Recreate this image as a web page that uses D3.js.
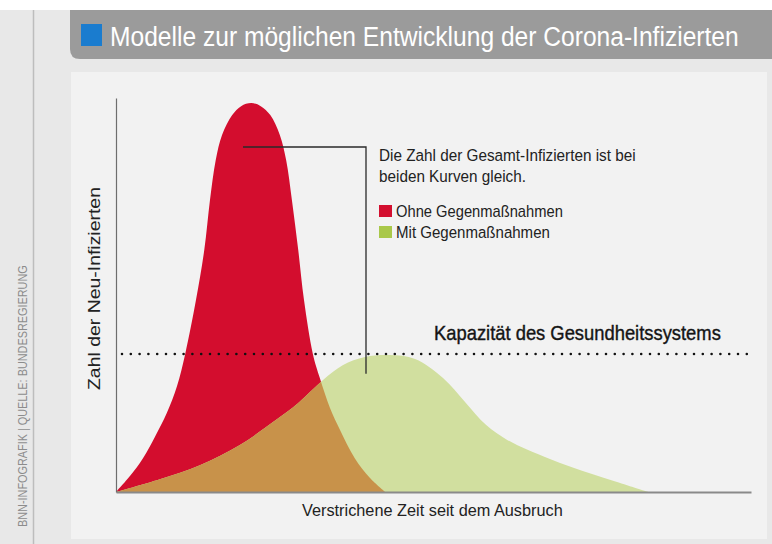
<!DOCTYPE html>
<html>
<head>
<meta charset="utf-8">
<script src="https://cdn.jsdelivr.net/npm/d3@7"></script>
<style>
  body { margin: 0; background: #e8e8e8; }
  svg { display: block; }
  text { font-family: 'Liberation Sans', Arial, sans-serif; }
</style>
</head>
<body>
<div id="chart"></div>
<script>
// time since outbreak (0-100) and new infections (share of red peak, 0-100)
var timeRed  = [0, 2.2, 4.25, 6.1, 8.0, 9.6, 10.9, 12.6, 13.9, 14.8, 15.7, 16.7, 18.3, 19.7, 21.3, 22.8, 24.3, 25.8, 26.8, 27.7, 28.7, 29.6, 31.0, 32.1, 33.7, 35.3, 37.6, 40.0, 42.4]
var valueRed = [0, 4.1, 8.7, 14.1, 20.3, 27.2, 35.5, 49.4, 62.2, 75.1, 85.3, 91.8, 96.9, 99.2, 100, 99.2, 96.9, 91.8, 85.3, 75.1, 62.2, 49.4, 35.5, 29.3, 21.6, 15.9, 8.7, 3.6, 0]

var timeGreen  = [0, 6.9, 13.2, 19.5, 25.0, 28.7, 32.6, 35.7, 39.2, 43.1, 47.1, 51.5, 55.0, 58.3, 61.6, 64.9, 71.7, 78.4, 83.8]
var valueGreen = [0, 3.3, 6.9, 12.1, 18.3, 22.9, 28.8, 32.6, 34.7, 35.2, 34.2, 29.3, 23.1, 17.2, 13.4, 10.8, 6.4, 2.8, 0]

var capacity = 35.5

var seriesNames = ["Ohne Gegenmaßnahmen", "Mit Gegenmaßnahmen"]
var titleText = "Modelle zur möglichen Entwicklung der Corona-Infizierten"
var noteLines = ["Die Zahl der Gesamt-Infizierten ist bei", "beiden Kurven gleich."]
var capacityLabel = "Kapazität des Gesundheitssystems"
var xLabel = "Verstrichene Zeit seit dem Ausbruch"
var yLabel = "Zahl der Neu-Infizierten"
var sourceText = "BNN-INFOGRAFIK | QUELLE: BUNDESREGIERUNG"

var width = 772, height = 544

var red = "#d30d2e", green = "#d1df9f", brown = "#c8924a"
var legendColors = ["#d30f2f", "#a9c84a"]

var svg = d3.select("#chart")
    .append("svg")
    .attr("width", width)
    .attr("height", height)

// squeeze a text horizontally so it takes the given width (condensed look)
function fitText(sel, x, y, w, rot) {
    var len = sel.node().getComputedTextLength()
    var k = w / len
    sel.attr("transform", "translate(" + x + "," + y + ")" + (rot ? " rotate(" + rot + ")" : "") + " scale(" + k + ",1)")
    return sel
}

// background pieces
svg.append("rect").attr("x", 0).attr("y", 0).attr("width", width).attr("height", height).attr("fill", "#e8e8e8")
svg.append("rect").attr("x", 0).attr("y", 0).attr("width", width).attr("height", 10).attr("fill", "#ffffff")
svg.append("line").attr("x1", 33.5).attr("x2", 33.5).attr("y1", 10).attr("y2", height)
    .attr("stroke", "#bdbdbd").attr("stroke-width", 1.5)

// title bar with rounded bottom-left corner
svg.append("path")
    .attr("d", "M70,10 H772 V59 H80 Q70,59 70,49 Z")
    .attr("fill", "#9b9b9b")
svg.append("rect").attr("x", 81).attr("y", 24).attr("width", 21).attr("height", 22).attr("fill", "#1a7ccf")
fitText(svg.append("text")
    .style("font-size", "28px").attr("fill", "#ffffff")
    .text(titleText), 110, 46, 629)

// panel
svg.append("rect").attr("x", 71).attr("y", 72).attr("width", 696).attr("height", 467).attr("fill", "#f2f2f2")

// source text
fitText(svg.append("text")
    .style("font-size", "13px").attr("fill", "#8c8c8c")
    .text(sourceText), 27, 527, 262, -90)

// scales
var x = d3.scaleLinear().domain([0, 100]).range([116, 751])
var y = d3.scaleLinear().domain([0, 101.3]).range([492, 98])

var redData = timeRed.map(function (t, i) { return { t: t, v: valueRed[i] } })
var greenData = timeGreen.map(function (t, i) { return { t: t, v: valueGreen[i] } })

var area = d3.area()
    .x(function (d) { return x(d.t) })
    .y0(y(0))
    .y1(function (d) { return y(d.v) })
    .curve(d3.curveCatmullRom.alpha(0.5))

svg.append("clipPath").attr("id", "redClip")
    .append("path").attr("d", area(redData))

svg.append("path").attr("d", area(redData)).attr("fill", red)
svg.append("path").attr("d", area(greenData)).attr("fill", green)
svg.append("path").attr("d", area(greenData)).attr("fill", brown).attr("clip-path", "url(#redClip)")

// axes without ticks
var xAxis = svg.append("g")
    .attr("transform", "translate(0," + y(0) + ")")
    .call(d3.axisBottom(x).ticks(0).tickSizeOuter(0))
xAxis.select(".domain").attr("stroke", "#8a8a8a").attr("stroke-width", 2)

var yAxis = svg.append("g")
    .attr("transform", "translate(" + x(0) + ",0)")
    .call(d3.axisLeft(y).ticks(0).tickSizeOuter(0))
yAxis.select(".domain").attr("stroke", "#6e6e6e").attr("stroke-width", 1.2)

// capacity line
svg.append("line")
    .attr("x1", x(0) + 6).attr("x2", x(100))
    .attr("y1", y(capacity)).attr("y2", y(capacity))
    .attr("stroke", "#111").attr("stroke-width", 2.6)
    .attr("stroke-linecap", "round")
    .style("stroke-dasharray", "0 8.8")

fitText(svg.append("text")
    .style("font-size", "21px").attr("fill", "#151515")
    .attr("stroke", "#151515").attr("stroke-width", 0.4)
    .text(capacityLabel), 434, 340, 287)

// annotation bracket from red peak down to green peak
svg.append("path")
    .attr("d", "M243," + y(88.7) + " H366 V" + y(30.4))
    .attr("fill", "none").attr("stroke", "#2a2a2a").attr("stroke-width", 1.3)

var noteWidths = [257, 147]
noteLines.forEach(function (d, i) {
    fitText(svg.append("text")
        .style("font-size", "17px").attr("fill", "#222")
        .text(d), 379, 161 + i * 21, noteWidths[i])
})

// legend
svg.selectAll(".legsq")
    .data(seriesNames)
    .enter()
    .append("rect")
    .attr("x", 379)
    .attr("y", function (d, i) { return 205 + i * 21 })
    .attr("width", 13).attr("height", 12)
    .attr("fill", function (d, i) { return legendColors[i] })

var legendWidths = [167, 154]
seriesNames.forEach(function (d, i) {
    fitText(svg.append("text")
        .style("font-size", "17px").attr("fill", "#222")
        .text(d), 396, 217 + i * 21, legendWidths[i])
})

// axis labels
fitText(svg.append("text")
    .style("font-size", "17px").attr("fill", "#222")
    .text(xLabel), 302, 516, 261)

fitText(svg.append("text")
    .style("font-size", "17px").attr("fill", "#222")
    .text(yLabel), 100, 390, 203, -90)
</script>
</body>
</html>
